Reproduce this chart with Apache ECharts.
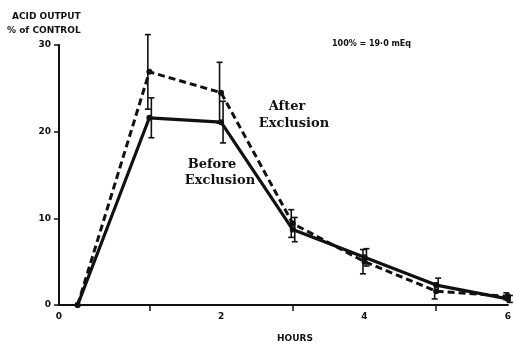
<!DOCTYPE html>
<html>
<head>
<meta charset="utf-8">
<script src="https://cdn.jsdelivr.net/npm/echarts@6/dist/echarts.min.js"></script>
<style>
  html, body { margin: 0; padding: 0; background: #fff; }
  #main { width: 514px; height: 346px; }
</style>
</head>
<body>
<div id="main"></div>
<script>
// hours after start
var hours = [0, 1, 2, 3, 4, 5, 6];
// acid output, % of control
var beforeVals = [0, 21.6, 21.1, 8.7, 5.5, 2.3, 0.7];
var beforeErr  = [0, 2.3, 2.4, 1.4, 1.0, 0.8, 0.4];
var afterVals  = [0, 26.9, 24.5, 9.4, 5.0, 1.6, 1.0];
var afterErr   = [0, 4.3, 3.5, 1.6, 1.4, 0.9, 0.4];
var xLabelValues = [-0.26, 2, 4, 6];
var xTickValues = [1, 3, 5];

var pairs = function (ys) {
    var res = [];
    for (var i = 0; i < hours.length; i++) res.push([hours[i], ys[i]]);
    return res;
};
var errData = function (ys, es) {
    var res = [];
    for (var i = 0; i < hours.length; i++) {
        if (es[i] > 0) res.push([hours[i], ys[i] - es[i], ys[i] + es[i]]);
    }
    return res;
};
// vertical bar with caps, shifted a little sideways so both series show
var errRender = function (shift) {
    return function (params, api) {
        var lo = api.coord([api.value(0), api.value(1)]);
        var hi = api.coord([api.value(0), api.value(2)]);
        var x = lo[0] + shift;
        var st = { stroke: '#111', lineWidth: 1.6 };
        return {
            type: 'group',
            children: [
                { type: 'line', shape: { x1: x, y1: lo[1], x2: x, y2: hi[1] }, style: st },
                { type: 'line', shape: { x1: x - 3, y1: lo[1], x2: x + 3, y2: lo[1] }, style: st },
                { type: 'line', shape: { x1: x - 3, y1: hi[1], x2: x + 3, y2: hi[1] }, style: st }
            ]
        };
    };
};

var chart = echarts.init(document.getElementById('main'));
var tickFont = { fontFamily: 'DejaVu Sans', fontWeight: 'bold', fontSize: 9, color: '#111' };
var noteFont = 'bold 13px "DejaVu Serif"';

var option = {
    animation: false,
    backgroundColor: '#fff',
    grid: { left: 59, right: 1, top: 45, bottom: 41, containLabel: false },
    xAxis: {
        type: 'value',
        min: -0.26,
        max: 6,
        splitLine: { show: false },
        axisLine: { onZero: false, lineStyle: { color: '#111', width: 2 } },
        axisTick: { show: true, customValues: xTickValues, length: 6, lineStyle: { color: '#111', width: 1.5 } },
        axisLabel: Object.assign({
            customValues: xLabelValues,
            margin: 7,
            formatter: function (v) { return v < 0 ? '0' : String(v); }
        }, tickFont)
    },
    yAxis: {
        type: 'value',
        min: 0,
        max: 30,
        interval: 10,
        splitLine: { show: false },
        axisLine: { show: true, onZero: false, lineStyle: { color: '#111', width: 2 } },
        axisTick: { show: true, length: 5, lineStyle: { color: '#111', width: 1.5 } },
        axisLabel: Object.assign({ margin: 8 }, tickFont)
    },
    graphic: [
        { type: 'text', left: 12, top: 12, style: { text: 'ACID OUTPUT', font: 'bold 9px "DejaVu Sans"', fill: '#111' } },
        { type: 'text', left: 7, top: 26, style: { text: '% of CONTROL', font: 'bold 9px "DejaVu Sans"', fill: '#111' } },
        { type: 'text', left: 332, top: 40, style: { text: '100% = 19·0 mEq', font: 'bold 8px "DejaVu Sans"', fill: '#111' } },
        { type: 'text', left: 277, top: 334, style: { text: 'HOURS', font: 'bold 9px "DejaVu Sans"', fill: '#111' } },
        { type: 'text', x: 287, y: 107, style: { text: 'After', font: noteFont, fill: '#111', align: 'center', verticalAlign: 'middle' } },
        { type: 'text', x: 294, y: 124, style: { text: 'Exclusion', font: noteFont, fill: '#111', align: 'center', verticalAlign: 'middle' } },
        { type: 'text', x: 212, y: 165, style: { text: 'Before', font: noteFont, fill: '#111', align: 'center', verticalAlign: 'middle' } },
        { type: 'text', x: 220, y: 181, style: { text: 'Exclusion', font: noteFont, fill: '#111', align: 'center', verticalAlign: 'middle' } }
    ],
    series: [
        {
            name: 'After Exclusion',
            type: 'line',
            data: pairs(afterVals),
            symbol: 'circle',
            symbolSize: 6,
            showSymbol: true,
            itemStyle: { color: '#111' },
            lineStyle: { color: '#111', width: 3, type: [7, 4] },
            z: 3
        },
        {
            name: 'Before Exclusion',
            type: 'line',
            data: pairs(beforeVals),
            symbol: 'circle',
            symbolSize: 6,
            itemStyle: { color: '#111' },
            lineStyle: { color: '#111', width: 3.2 },
            z: 4
        },
        {
            type: 'custom',
            data: errData(afterVals, afterErr),
            renderItem: errRender(-1.5),
            encode: { x: 0, y: [1, 2] },
            z: 5
        },
        {
            type: 'custom',
            data: errData(beforeVals, beforeErr),
            renderItem: errRender(2),
            encode: { x: 0, y: [1, 2] },
            z: 5
        }
    ]
};
chart.setOption(option);
</script>
</body>
</html>
